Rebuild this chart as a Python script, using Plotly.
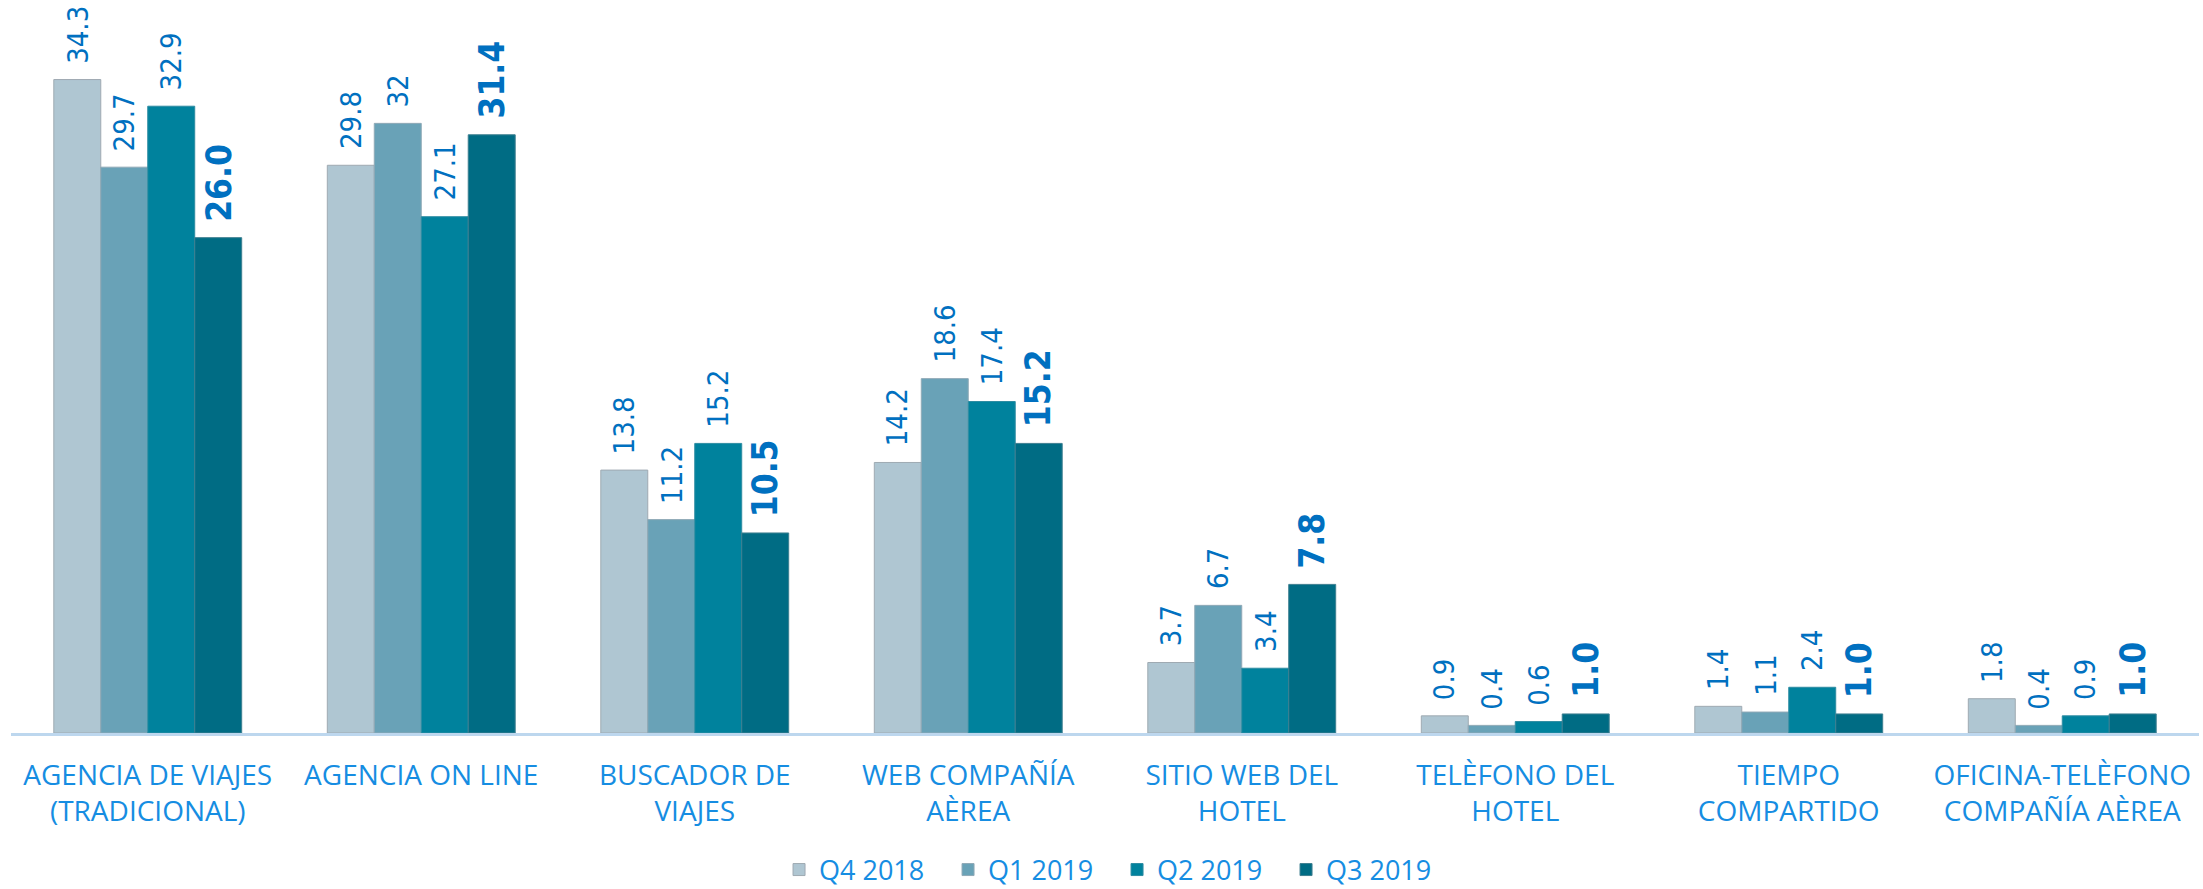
import plotly.graph_objects as go

categories = [
    "AGENCIA DE VIAJES<br>(TRADICIONAL)",
    "AGENCIA ON LINE",
    "BUSCADOR DE<br>VIAJES",
    "WEB COMPAÑÍA<br>AÈREA",
    "SITIO WEB DEL<br>HOTEL",
    "TELÈFONO DEL<br>HOTEL",
    "TIEMPO<br>COMPARTIDO",
    "OFICINA-TELÈFONO<br>COMPAÑÍA AÈREA",
]
series_names = ["Q4 2018", "Q1 2019", "Q2 2019", "Q3 2019"]
q4_2018 = [34.3, 29.8, 13.8, 14.2, 3.7, 0.9, 1.4, 1.8]
q1_2019 = [29.7, 32, 11.2, 18.6, 6.7, 0.4, 1.1, 0.4]
q2_2019 = [32.9, 27.1, 15.2, 17.4, 3.4, 0.6, 2.4, 0.9]
q3_2019 = [26.0, 31.4, 10.5, 15.2, 7.8, 1.0, 1.0, 1.0]

series_values = [q4_2018, q1_2019, q2_2019, q3_2019]
colors = ["#AFC6D2", "#69A2B7", "#00829D", "#006C84"]
outline = ["#9FAAB2", "#8FA9B6", "#2E8CA2", "#3E7F90"]

LABEL_BLUE = "#0070C0"
CAT_BLUE = "#168DE2"
LABEL_FONT = "DejaVu Sans Condensed, DejaVu Sans"
BARGAP = 0.313
n_series = len(series_names)
bar_w = (1 - BARGAP) / n_series

fig = go.Figure()
annotations = []
for i, (name, vals) in enumerate(zip(series_names, series_values)):
    last = i == n_series - 1
    fig.add_trace(go.Bar(
        name=name,
        x=categories,
        y=vals,
        marker=dict(color=colors[i], line=dict(color=outline[i], width=1)),
        hoverinfo="x+y+name",
    ))
    offset = -(1 - BARGAP) / 2 + (i + 0.5) * bar_w
    for j, v in enumerate(vals):
        txt = f"{v:.1f}" if last else f"{v:g}"
        annotations.append(dict(
            xref="x", yref="y",
            x=j + offset, y=v,
            text=f"<b>{txt}</b>" if last else txt,
            textangle=-90,
            showarrow=False,
            xanchor="center", yanchor="bottom",
            yshift=14,
            font=dict(family=LABEL_FONT, size=35 if last else 29, color=LABEL_BLUE),
        ))

fig.update_layout(
    width=2203,
    height=889,
    barmode="group",
    bargap=BARGAP,
    bargroupgap=0,
    plot_bgcolor="white",
    paper_bgcolor="white",
    margin=dict(l=11, r=4, t=10, b=156, autoexpand=False),
    showlegend=True,
    annotations=annotations,
    legend=dict(
        orientation="h",
        x=0.5055,
        xanchor="center",
        y=-0.1895,
        yanchor="middle",
        font=dict(family="Open Sans", size=27, color=CAT_BLUE),
        entrywidth=124,
        entrywidthmode="pixels",
        traceorder="normal",
    ),
    xaxis=dict(
        showline=True,
        linecolor="#BDD7EE",
        linewidth=3,
        showgrid=False,
        ticks="",
        automargin=False,
        tickfont=dict(family="Open Sans", size=28, color=CAT_BLUE),
        ticklabelstandoff=15,
    ),
    yaxis=dict(
        range=[0, 37.95],
        showgrid=False,
        showticklabels=False,
        zeroline=False,
        showline=False,
        automargin=False,
    ),
)

fig.write_html(
    "out.html",
    config={"displayModeBar": False},
    post_script="document.body.style.margin='0px';document.body.style.overflow='hidden';",
)
